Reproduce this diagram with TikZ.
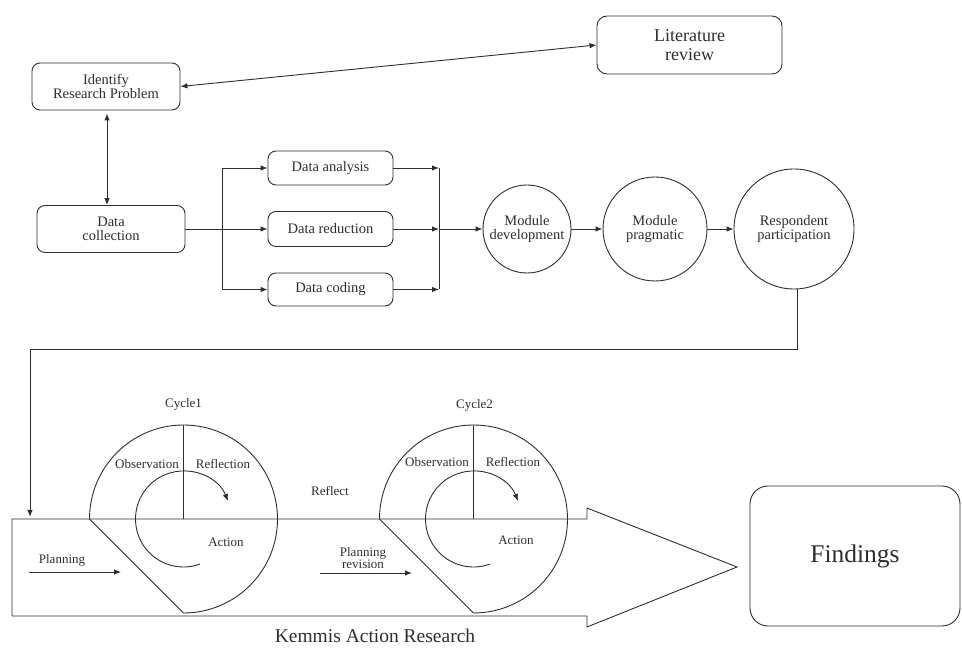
\documentclass[tikz,border=0pt]{standalone}
\usepackage{fontspec}
\setmainfont{Liberation Serif}
\usetikzlibrary{arrows.meta,calc}
\begin{document}
\begin{tikzpicture}[x=1pt,y=1pt, line width=0.9pt, color=black!82,
  rbox/.style={draw, rounded corners=8pt, align=center, inner sep=1pt,
    font=\fontsize{14.5}{14}\selectfont},
  circ/.style={draw, circle, align=center, inner sep=0pt,
    font=\fontsize{14.5}{14}\selectfont},
  lbl/.style={align=center, inner sep=0pt, font=\fontsize{13}{12}\selectfont},
  arr/.style={-{Latex[length=7pt,width=5.5pt]}},
  dbl/.style={{Latex[length=7pt,width=5.5pt]}-{Latex[length=7pt,width=5.5pt]}}]
\useasboundingbox (0,0) rectangle (962,648);

% top boxes
\node[rbox, minimum width=148, minimum height=47] (idp) at (106,561.5) {Identify\\Research Problem};
\node[rbox, rounded corners=10pt, minimum width=185, minimum height=58,
      font=\fontsize{18}{19}\selectfont] (lit) at (689.5,603) {Literature\\review};
\node[rbox, minimum width=148, minimum height=47] (dc) at (111,419) {Data\\collection};
\node[rbox, minimum width=125, minimum height=34] (da) at (330.5,480) {Data analysis};
\node[rbox, minimum width=125, minimum height=35] (dr) at (330.5,419) {Data reduction};
\node[rbox, minimum width=125, minimum height=33] (dcd) at (330.5,358.5) {Data coding};
\node[circ, minimum size=88] (md) at (527,419) {Module\\development};
\node[circ, minimum size=104] (mp) at (655,419) {Module\\pragmatic};
\node[circ, minimum size=120] (rp) at (794,419) {Respondent\\participation};

\draw[dbl] (idp.east) -- (lit.west);
\draw[dbl] (idp.south) ++(1,-3) coordinate (a1) -- (a1 |- dc.north) ;

\coordinate (split) at (222,419);
\coordinate (merge) at (439,419);
\draw (dc.east) -- (split);
\draw[arr] (split) |- (da.west);
\draw[arr] (split) -- (dr.west);
\draw[arr] (split) |- (dcd.west);
\draw[arr] (da.east) -- (da.east -| merge);
\draw[arr] (dr.east) -- (dr.east -| merge);
\draw[arr] (dcd.east) -- (dcd.east -| merge);
\draw (da.east -| merge) -- (dcd.east -| merge);
\draw[arr] (merge) -- (md.west);
\draw[arr] (md.east) -- (mp.west);
\draw[arr] (mp.east) -- (rp.west);

\coordinate (turn1) at (797,299);
\coordinate (turn2) at (30,299);
\coordinate (entry) at (30,131);
\draw[arr] (rp.south -| turn1) -- (turn1) -- (turn2) -- (entry);

% big arrow
\draw (12,129) -- (587,129) -- (587,140) -- (737,81) -- (587,21) -- (587,32) -- (12,32) -- cycle;

% cycles
\foreach \cx/\nm in {183.5/1, 473.5/2}{
  \coordinate (c\nm) at (\cx,129);
  \draw ($(c\nm)+(180:94)$) arc[start angle=180, end angle=-90, radius=94] -- cycle;
  \draw (c\nm) -- ++(0,94);
  \draw[arr] ($(c\nm)+(-70:48)$) arc[start angle=-70, end angle=-338, radius=48];
}
\node[lbl] (cy1) at (183.5,244) {Cycle1};
\node[lbl] (ob1) at (147,184) {Observation};
\node[lbl] (re1) at (223,184) {Reflection};
\node[lbl] (ac1) at (226,106) {Action};
\node[lbl] (pl1) at (62,88) {Planning};
\coordinate (p1s) at (29,76);
\coordinate (p1e) at (121,76);
\draw[arr] (p1s) -- (p1e);

\node[lbl] (rfl) at (330,157) {Reflect};
\node[lbl] (pl2) at (363,90) {Planning\\revision};
\coordinate (p2s) at (320,75);
\coordinate (p2e) at (412,75);
\draw[arr] (p2s) -- (p2e);

\node[lbl] (cy2) at (474.5,243) {Cycle2};
\node[lbl] (ob2) at (437,186) {Observation};
\node[lbl] (re2) at (513,186) {Reflection};
\node[lbl] (ac2) at (516,108) {Action};

\node[draw, rounded corners=18pt, minimum width=210, minimum height=140,
      font=\fontsize{25.5}{28}\selectfont] (fnd) at (855,92) {Findings};
\node[inner sep=0pt, font=\fontsize{19.5}{22}\selectfont] (kem) at (375,12) {Kemmis Action Research};
\end{tikzpicture}
\end{document}
